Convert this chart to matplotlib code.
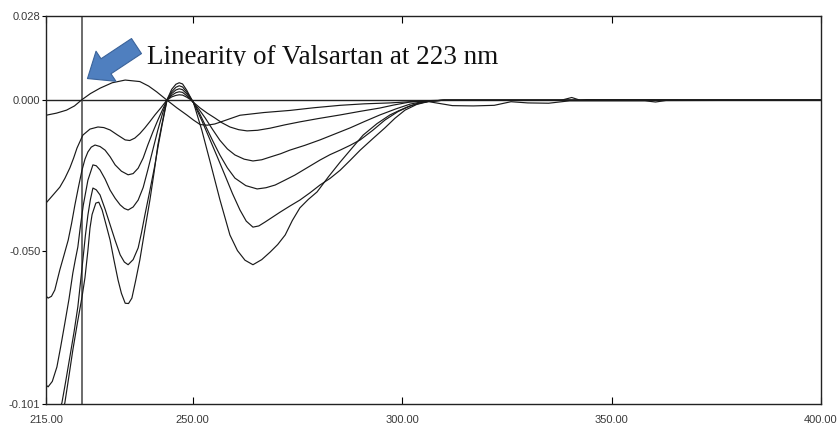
import matplotlib
matplotlib.use("Agg")
import matplotlib.pyplot as plt
from matplotlib.patches import FancyArrowPatch
from matplotlib.transforms import Bbox, TransformedBbox

# Valsartan derivative spectra (wavelength nm vs amplitude)
wl_a = [215.0, 217.5, 219.9, 221.8, 223.5, 225.6, 227.9, 230.8, 233.9, 237.4,
        239.5, 241.4, 243.8, 246.2, 248.6, 250.2, 251.8, 253.5, 255.3, 258.0,
        261.3, 267.0, 273.2, 279.0, 285.2, 291.0, 297.1, 301.9, 306.0, 312.0,
        317.0, 322.0, 326.0, 330.0, 335.0, 340.0, 358.0, 360.5, 363.0, 400.0]
abs_a = [-0.0050, -0.0043, -0.0033, -0.0019, 0.0001, 0.0022, 0.0040, 0.0058, 0.0067, 0.0062,
         0.0047, 0.0028, 0.0001, -0.0025, -0.0049, -0.0066, -0.0081, -0.0083, -0.0079, -0.0066,
         -0.0050, -0.0041, -0.0034, -0.0025, -0.0017, -0.0012, -0.0009, -0.0005, -0.0004, -0.0018,
         -0.0019, -0.0017, -0.0005, -0.0009, -0.0010, -0.0002, -0.0002, -0.0006, -0.0001, 0.0000]

wl_b = [215.0, 216.5, 218.3, 219.5, 220.7, 221.6, 222.4, 223.8, 225.5, 227.4,
        228.8, 230.3, 232.0, 233.9, 235.0, 236.2, 237.4, 238.6, 239.8, 241.0,
        242.5, 243.9, 245.0, 246.0, 246.8, 247.6, 248.6, 249.4, 250.2, 251.8,
        253.5, 255.3, 257.0, 258.9, 261.0, 263.0, 265.5, 268.5, 272.0, 275.6,
        280.0, 285.2, 290.0, 294.7, 298.0, 301.9, 305.0, 310.0, 400.0]
abs_b = [-0.0342, -0.0318, -0.0289, -0.0260, -0.0225, -0.0192, -0.0159, -0.0116, -0.0096, -0.0089,
         -0.0091, -0.0099, -0.0115, -0.0132, -0.0134, -0.0126, -0.0111, -0.0092, -0.0071, -0.0049,
         -0.0024, 0.0001, 0.0011, 0.0016, 0.0018, 0.0017, 0.0010, 0.0003, -0.0007, -0.0026,
         -0.0043, -0.0059, -0.0075, -0.0089, -0.0098, -0.0102, -0.0100, -0.0093, -0.0082, -0.0072,
         -0.0061, -0.0049, -0.0037, -0.0026, -0.0016, -0.0006, -0.0002, 0.0000, 0.0000]

wl_c = [215.0, 215.5, 216.3, 217.1, 218.3, 219.3, 220.3, 221.1, 221.9, 222.8,
        223.6, 224.3, 225.0, 225.8, 226.7, 227.9, 229.1, 230.3, 231.5, 233.0,
        234.6, 235.8, 237.0, 238.2, 239.3, 240.5, 241.7, 242.8, 243.9, 245.0,
        246.0, 246.8, 247.6, 248.6, 249.4, 250.2, 251.6, 253.0, 254.8, 256.5,
        258.3, 260.1, 262.3, 264.4, 266.5, 268.5, 271.0, 273.2, 276.8, 280.4,
        284.0, 287.6, 291.0, 294.7, 298.5, 301.9, 304.5, 306.7, 310.0, 400.0]
abs_c = [-0.0651, -0.0658, -0.0652, -0.0631, -0.0564, -0.0515, -0.0465, -0.0410, -0.0348, -0.0285,
         -0.0232, -0.0196, -0.0172, -0.0156, -0.0149, -0.0154, -0.0166, -0.0188, -0.0215, -0.0236,
         -0.0248, -0.0244, -0.0226, -0.0192, -0.0149, -0.0106, -0.0066, -0.0032, 0.0001, 0.0016,
         0.0025, 0.0028, 0.0026, 0.0015, 0.0005, -0.0008, -0.0032, -0.0059, -0.0098, -0.0133,
         -0.0162, -0.0182, -0.0196, -0.0202, -0.0198, -0.0189, -0.0178, -0.0166, -0.0150, -0.0132,
         -0.0112, -0.0092, -0.0071, -0.0049, -0.0029, -0.0013, -0.0006, -0.0003, 0.0000, 0.0000]

wl_d = [215.0, 215.5, 216.5, 217.6, 218.5, 219.5, 220.5, 221.4, 222.0, 222.6,
        223.2, 223.9, 225.0, 226.2, 227.0, 227.9, 229.1, 230.3, 231.5, 232.7,
        233.7, 234.6, 235.8, 237.0, 238.2, 239.3, 240.5, 241.7, 242.8, 243.9,
        245.0, 246.0, 246.8, 247.6, 248.6, 249.4, 250.2, 251.6, 253.0, 254.8,
        256.5, 258.3, 260.1, 262.7, 265.4, 267.5, 269.7, 272.0, 274.4, 277.4,
        280.4, 282.8, 285.2, 287.6, 290.0, 293.0, 295.9, 299.0, 301.9, 304.5,
        306.7, 310.0, 400.0]
abs_d = [-0.0947, -0.0953, -0.0935, -0.0887, -0.0820, -0.0741, -0.0660, -0.0575, -0.0530, -0.0488,
         -0.0420, -0.0349, -0.0266, -0.0215, -0.0218, -0.0232, -0.0262, -0.0299, -0.0326, -0.0348,
         -0.0360, -0.0365, -0.0355, -0.0332, -0.0290, -0.0232, -0.0165, -0.0099, -0.0045, 0.0001,
         0.0022, 0.0034, 0.0038, 0.0035, 0.0021, 0.0008, -0.0008, -0.0042, -0.0083, -0.0135,
         -0.0182, -0.0225, -0.0259, -0.0284, -0.0295, -0.0291, -0.0282, -0.0266, -0.0249, -0.0224,
         -0.0199, -0.0181, -0.0166, -0.0150, -0.0132, -0.0100, -0.0066, -0.0038, -0.0019, -0.0009,
         -0.0003, 0.0000, 0.0000]

wl_e = [216.5, 217.1, 218.0, 218.8, 219.7, 220.7, 221.7, 222.6, 223.2, 223.8,
        224.4, 225.0, 225.6, 226.2, 227.0, 227.9, 229.1, 230.3, 231.5, 232.7,
        233.7, 234.6, 235.8, 237.0, 237.8, 238.6, 239.8, 241.0, 241.8, 242.7,
        243.9, 245.0, 246.0, 246.8, 247.6, 248.6, 249.4, 250.2, 252.2, 254.2,
        256.0, 257.7, 259.5, 261.3, 262.8, 264.4, 265.8, 267.3, 270.9, 273.2,
        275.6, 278.0, 280.4, 282.8, 285.2, 287.6, 290.0, 293.0, 295.9, 298.3,
        300.7, 303.5, 306.7, 310.0, 400.0]
abs_e = [-0.1100, -0.1060, -0.1035, -0.1006, -0.0935, -0.0853, -0.0770, -0.0687, -0.0610, -0.0531,
         -0.0450, -0.0382, -0.0330, -0.0292, -0.0298, -0.0315, -0.0362, -0.0414, -0.0466, -0.0514,
         -0.0538, -0.0547, -0.0530, -0.0491, -0.0440, -0.0382, -0.0300, -0.0215, -0.0150, -0.0083,
         0.0001, 0.0028, 0.0043, 0.0048, 0.0044, 0.0027, 0.0010, -0.0008, -0.0068, -0.0133,
         -0.0192, -0.0249, -0.0310, -0.0365, -0.0402, -0.0422, -0.0418, -0.0405, -0.0372, -0.0352,
         -0.0332, -0.0308, -0.0282, -0.0260, -0.0233, -0.0200, -0.0166, -0.0128, -0.0092, -0.0060,
         -0.0033, -0.0014, -0.0003, 0.0000, 0.0000]

wl_f = [217.2, 217.9, 218.7, 219.5, 220.5, 221.4, 222.5, 223.6, 224.3, 225.0,
        225.5, 226.0, 226.9, 227.6, 228.4, 229.3, 230.3, 231.2, 232.2, 233.0,
        233.9, 234.7, 235.5, 236.4, 237.4, 238.6, 239.8, 240.8, 241.7, 242.6,
        243.4, 243.9, 245.0, 246.0, 246.8, 247.6, 248.6, 249.4, 250.2, 252.2,
        254.2, 256.5, 258.9, 260.7, 262.5, 264.4, 266.5, 268.5, 270.3, 272.1,
        273.8, 275.6, 277.6, 279.7, 282.4, 285.2, 288.0, 290.7, 294.0, 297.1,
        299.2, 301.2, 303.8, 306.7, 310.0, 338.0, 340.5, 342.5, 344.0, 400.0]
abs_f = [-0.1150, -0.1100, -0.1050, -0.1006, -0.0915, -0.0831, -0.0740, -0.0654, -0.0590, -0.0500,
         -0.0425, -0.0380, -0.0342, -0.0339, -0.0365, -0.0412, -0.0465, -0.0530, -0.0598, -0.0642,
         -0.0675, -0.0676, -0.0658, -0.0600, -0.0531, -0.0430, -0.0332, -0.0240, -0.0149, -0.0085,
         -0.0030, 0.0002, 0.0036, 0.0053, 0.0058, 0.0054, 0.0033, 0.0012, -0.0008, -0.0100,
         -0.0206, -0.0330, -0.0448, -0.0500, -0.0532, -0.0547, -0.0530, -0.0505, -0.0480, -0.0448,
         -0.0400, -0.0358, -0.0330, -0.0305, -0.0255, -0.0206, -0.0160, -0.0116, -0.0078, -0.0049,
         -0.0035, -0.0023, -0.0010, -0.0003, 0.0000, 0.0000, 0.0009, 0.0000, 0.0002, 0.0000]

x_ticks = [215, 250, 300, 350, 400]
x_labels = ["215.00", "250.00", "300.00", "350.00", "400.00"]
y_ticks = [0.028, 0.0, -0.050, -0.101]
y_labels = ["0.028", "0.000", "-0.050", "-0.101"]
marker_nm = 223.6
caption = "Linearity of Valsartan at 223 nm"

fig = plt.figure(figsize=(8.38, 4.30), dpi=100)
ax = fig.add_axes([0.0549, 0.0605, 0.9248, 0.9023])

# reference lines
ax.axhline(0.0, color="#222222", lw=1.0, zorder=1)
ax.axvline(marker_nm, color="#444444", lw=1.1, zorder=1)

for wl, ab in [(wl_a, abs_a), (wl_b, abs_b), (wl_c, abs_c),
               (wl_d, abs_d), (wl_e, abs_e), (wl_f, abs_f)]:
    ax.plot(wl, ab, color="#1a1a1a", lw=0.85, zorder=2)

ax.set_xlim(215, 400)
ax.set_ylim(-0.101, 0.028)

ax.set_xticks(x_ticks)
ax.set_xticklabels(x_labels)
ax.set_yticks(y_ticks)
ax.set_yticklabels(y_labels)
ax.tick_params(axis="x", direction="in", top=True, length=5, width=0.8, pad=8,
               labelsize=8, labelcolor="#3a3a3a")
ax.tick_params(axis="y", direction="out", length=3, width=0.8, pad=1,
               labelsize=8, labelcolor="#3a3a3a")
for lab in ax.get_xticklabels() + ax.get_yticklabels():
    lab.set_family("Liberation Sans")
for s in ax.spines.values():
    s.set_linewidth(1.0)
    s.set_color("#222222")

# annotation: blue block arrow and caption
arrow = FancyArrowPatch((236.6, 0.0180), (224.9, 0.0072),
                        arrowstyle="simple,head_length=16,head_width=26,tail_width=13",
                        facecolor="#4f7fbf", edgecolor="#3b639a", lw=0.8,
                        shrinkA=0, shrinkB=0, zorder=4)
ax.add_patch(arrow)

txt = ax.text(239.1, 0.0120, caption, family="Liberation Serif", fontsize=19.5,
              color="#111111", ha="left", va="baseline", zorder=5)
# the descender of the caption is cut in the original
txt.set_clip_box(TransformedBbox(Bbox([[215, 0.0115], [400, 0.028]]), ax.transData))
txt.set_clip_on(True)

plt.savefig("out.png", dpi=100, facecolor="white")
